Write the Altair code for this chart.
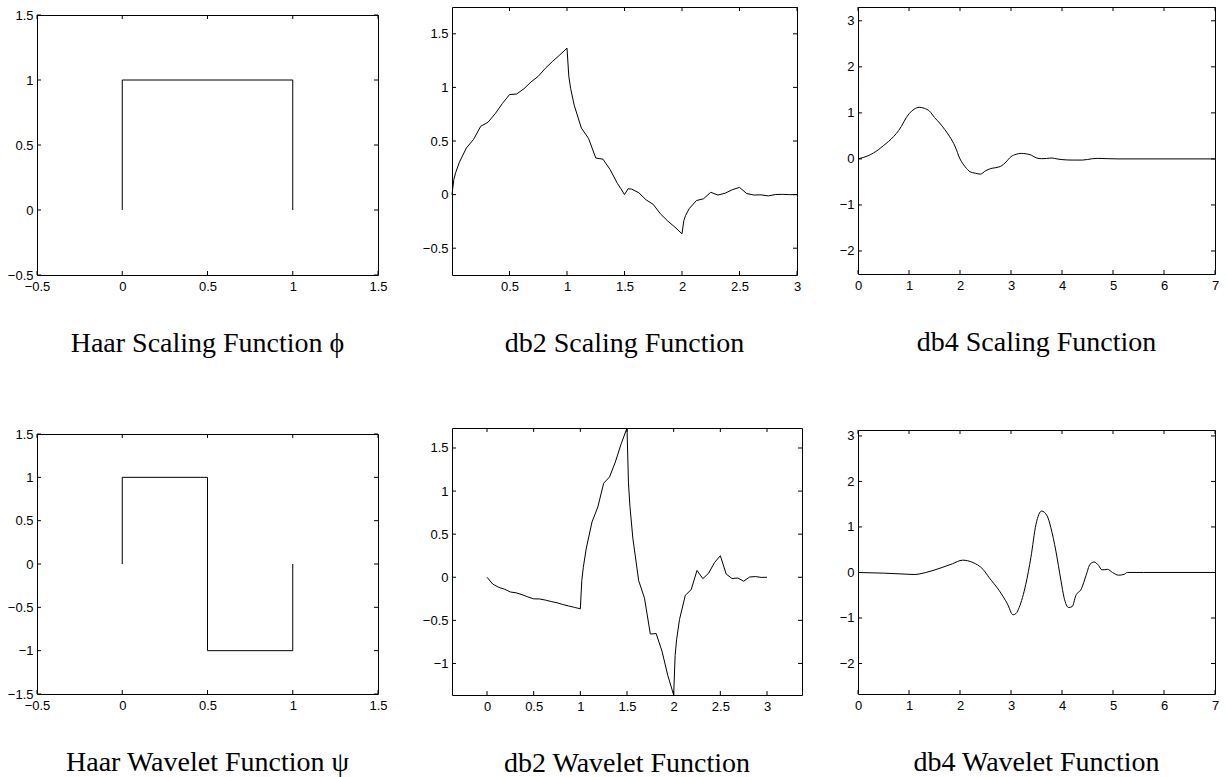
import altair as alt
import pandas as pd

# ---------------- data ----------------
haar_phi_x = [0, 0, 1, 1]
haar_phi_y = [0, 1, 1, 0]

haar_psi_x = [0, 0, 0.5, 0.5, 1, 1]
haar_psi_y = [0, 1, 1, -1, -1, 0]

db2_phi_x = [0, 0.015625, 0.03125, 0.0625, 0.125, 0.1875, 0.25, 0.3125, 0.375, 0.4375,
             0.5, 0.5625, 0.625, 0.6875, 0.75, 0.8125, 0.875, 0.9375, 1.0, 1.015625,
             1.03125, 1.0625, 1.125, 1.1875, 1.25, 1.3125, 1.375, 1.4375, 1.46875, 1.5,
             1.53125, 1.5625, 1.625, 1.6875, 1.75, 1.8125, 1.875, 1.9375, 2.0, 2.015625,
             2.03125, 2.0625, 2.125, 2.1875, 2.25, 2.3125, 2.375, 2.4375, 2.5, 2.5625,
             2.625, 2.6875, 2.75, 2.8125, 2.875, 2.9375, 3.0]
db2_phi_y = [0, 0.1387, 0.2031, 0.2973, 0.4353, 0.5149, 0.6373, 0.6742, 0.7539, 0.8492,
             0.9330, 0.9388, 0.9871, 1.0512, 1.1038, 1.1792, 1.2433, 1.3031, 1.3660, 1.1043,
             0.9911, 0.8340, 0.6205, 0.5237, 0.3415, 0.3301, 0.2333, 0.1052, 0.0547, 0.0,
             0.0547, 0.0510, 0.0168, -0.0489, -0.0915, -0.1799, -0.2456, -0.3027, -0.3660, -0.2430,
             -0.1942, -0.1313, -0.0558, -0.0386, 0.0212, -0.0043, 0.0128, 0.0456, 0.0670, 0.0102,
             -0.0039, -0.0023, -0.0123, 0.0007, 0.0023, -0.0004, 0.0]

db2_psi_x = [0, 0.0625, 0.125, 0.1875, 0.25, 0.3125, 0.375, 0.4375, 0.5, 0.5625,
             0.625, 0.6875, 0.75, 0.8125, 0.875, 0.9375, 1.0, 1.015625, 1.03125, 1.0625,
             1.125, 1.1875, 1.25, 1.3125, 1.375, 1.4375, 1.5, 1.515625, 1.53125, 1.5625,
             1.625, 1.6875, 1.75, 1.8125, 1.875, 1.9375, 2.0, 2.015625, 2.03125, 2.0625,
             2.125, 2.1875, 2.25, 2.3125, 2.375, 2.4375, 2.5, 2.5625, 2.625, 2.6875,
             2.75, 2.8125, 2.875, 2.9375, 3.0]
db2_psi_y = [0, -0.0797, -0.1166, -0.1380, -0.1707, -0.1806, -0.2020, -0.2275, -0.2500, -0.2516,
             -0.2645, -0.2817, -0.2958, -0.3160, -0.3332, -0.3492, -0.3660, -0.0384, 0.1113, 0.3285,
             0.6417, 0.8156, 1.0914, 1.1631, 1.3371, 1.5483, 1.7320, 1.0954, 0.8251, 0.4545,
             -0.0380, -0.2430, -0.6585, -0.6531, -0.8582, -1.1404, -1.3660, -0.9066, -0.7249, -0.4898,
             -0.2081, -0.1442, 0.0793, -0.0161, 0.0479, 0.1704, 0.2500, 0.0381, -0.0145, -0.0087,
             -0.0458, 0.0027, 0.0084, -0.0016, 0.0]

db4_phi_x = [0, 0.2, 0.4, 0.5, 0.6, 0.8, 1.0, 1.1, 1.2, 1.3, 1.4, 1.5, 1.6, 1.7, 1.8, 1.9,
             2.0, 2.1, 2.2, 2.3, 2.4, 2.5, 2.6, 2.7, 2.8, 2.9, 3.0, 3.1, 3.2, 3.3, 3.4, 3.5,
             3.6, 3.7, 3.8, 3.9, 4.0, 4.2, 4.4, 4.6, 4.7, 4.9, 5.1, 6.0, 7.0]
db4_phi_y = [0, 0.07, 0.20, 0.29, 0.38, 0.62, 0.98, 1.08, 1.12, 1.10, 1.04, 0.90, 0.78, 0.64, 0.48, 0.28,
             0.00, -0.17, -0.28, -0.31, -0.33, -0.26, -0.21, -0.19, -0.16, -0.07, 0.05, 0.10, 0.12, 0.11, 0.08, 0.02,
             0.005, 0.01, 0.02, 0.0, -0.015, -0.025, -0.025, 0.005, 0.012, 0.005, 0.0, 0.0, 0.0]

db4_psi_x = [0, 0.5, 1.0, 1.1, 1.33, 1.65, 1.85, 2.05, 2.25, 2.45, 2.57, 2.77, 2.93, 3.04, 3.1,
             3.16, 3.29, 3.39, 3.49, 3.6, 3.71, 3.78, 3.88, 3.98, 4.04, 4.13, 4.2, 4.27, 4.38,
             4.47, 4.55, 4.63, 4.72, 4.78, 4.84, 4.89, 4.99, 5.11, 5.22, 5.28, 5.6, 7.0]
db4_psi_y = [0, -0.015, -0.04, -0.045, 0.0, 0.11, 0.19, 0.27, 0.22, 0.07, -0.11, -0.40, -0.69, -0.93, -0.90,
             -0.77, -0.26, 0.33, 1.06, 1.35, 1.24, 0.99, 0.47, -0.18, -0.55, -0.77, -0.75, -0.51, -0.36,
             -0.07, 0.18, 0.23, 0.15, 0.06, 0.06, 0.07, 0.0, -0.06, -0.04, 0.0, 0.0, 0.0]

captions = ["Haar Scaling Function \u03d5", "db2 Scaling Function", "db4 Scaling Function",
            "Haar Wavelet Function \u03c8", "db2 Wavelet Function", "db4 Wavelet Function"]

ticks_haar_x = [-0.5, 0, 0.5, 1, 1.5]
ticks_haar_phi_y = [-0.5, 0, 0.5, 1, 1.5]
ticks_haar_psi_y = [-1.5, -1, -0.5, 0, 0.5, 1, 1.5]
ticks_db2_phi_x = [0.5, 1, 1.5, 2, 2.5, 3]
ticks_db2_phi_y = [-0.5, 0, 0.5, 1, 1.5]
ticks_db2_psi_x = [0, 0.5, 1, 1.5, 2, 2.5, 3]
ticks_db2_psi_y = [-1, -0.5, 0, 0.5, 1, 1.5]
ticks_db4_x = [0, 1, 2, 3, 4, 5, 6, 7]
ticks_db4_y = [-2, -1, 0, 1, 2, 3]

TICK = 4
CAP_OFFSET = 37


def panel(xs, ys, xdom, ydom, xticks, yticks, w, h, ext, caption, interp="linear"):
    df = pd.DataFrame({"x": xs, "y": ys, "i": list(range(len(xs)))})
    xsc = alt.Scale(domain=xdom, nice=False, zero=False)
    ysc = alt.Scale(domain=ydom, nice=False, zero=False)
    xax = alt.Axis(values=xticks, format="~g", title=None)
    yax = alt.Axis(values=yticks, format="~g", title=None, minExtent=ext, maxExtent=ext)
    line = alt.Chart(df).mark_line(color="black", strokeWidth=1, interpolate=interp).encode(
        x=alt.X("x:Q", scale=xsc, axis=xax),
        y=alt.Y("y:Q", scale=ysc, axis=yax),
        order=alt.Order("i:Q"),
    )
    xt = pd.DataFrame({"x": xticks})
    yt = pd.DataFrame({"y": yticks})
    rule = dict(color="black", strokeWidth=1)
    bx = alt.Chart(xt).mark_rule(**rule).encode(
        x=alt.X("x:Q", scale=xsc, axis=xax), y=alt.value(h), y2=alt.value(h - TICK))
    tx = alt.Chart(xt).mark_rule(**rule).encode(
        x=alt.X("x:Q", scale=xsc, axis=xax), y=alt.value(0), y2=alt.value(TICK))
    ly = alt.Chart(yt).mark_rule(**rule).encode(
        y=alt.Y("y:Q", scale=ysc, axis=yax), x=alt.value(0), x2=alt.value(TICK))
    ry = alt.Chart(yt).mark_rule(**rule).encode(
        y=alt.Y("y:Q", scale=ysc, axis=yax), x=alt.value(w), x2=alt.value(w - TICK))
    return alt.layer(line, bx, tx, ly, ry).properties(
        width=w, height=h,
        title=alt.TitleParams(caption, orient="bottom", anchor="middle", frame="group",
                              font="Liberation Serif", fontSize=28, fontWeight="normal",
                              color="black", baseline="top", offset=CAP_OFFSET),
    )


p1 = panel(haar_phi_x, haar_phi_y, [-0.5, 1.5], [-0.5, 1.5], ticks_haar_x, ticks_haar_phi_y,
           341, 260, 32, captions[0])
p2 = panel(db2_phi_x, db2_phi_y, [0, 3], [-0.75, 1.75], ticks_db2_phi_x, ticks_db2_phi_y,
           345, 268, 31, captions[1])
p3 = panel(db4_phi_x, db4_phi_y, [0, 7], [-2.5, 3.3], ticks_db4_x, ticks_db4_y,
           357, 267, 22, captions[2], interp="monotone")
p4 = panel(haar_psi_x, haar_psi_y, [-0.5, 1.5], [-1.5, 1.5], ticks_haar_x, ticks_haar_psi_y,
           341, 260, 32, captions[3])
p5 = panel(db2_psi_x, db2_psi_y, [-0.375, 3.375], [-1.366, 1.732], ticks_db2_psi_x, ticks_db2_psi_y,
           350, 267, 31, captions[4])
p6 = panel(db4_psi_x, db4_psi_y, [0, 7], [-2.67, 3.13], ticks_db4_x, ticks_db4_y,
           357, 264, 22, captions[5], interp="monotone")

# thin invisible spacer that lowers the first column a little, as in the reference
spacer = alt.Chart(pd.DataFrame({"a": [0]})).mark_rule(strokeOpacity=0, strokeWidth=0.1).encode(
    x=alt.value(1), y=alt.value(0), y2=alt.value(0.1)
).properties(width=341, height=0.1, view=alt.ViewBackground(stroke="transparent"))

col1 = alt.vconcat(spacer, alt.vconcat(p1, p4, spacing=68), spacing=0)
col2 = alt.vconcat(p2, p5, spacing=66)
col3 = alt.vconcat(p3, p6, spacing=71)

chart = alt.hconcat(col1, col2, col3, spacing=32).properties(
    padding={"left": 4, "top": 6, "right": 0, "bottom": 0},
    background="white",
).configure_view(
    stroke="black", strokeWidth=1
).configure_axis(
    labelFont="Liberation Sans", labelFontSize=13, labelColor="black",
    ticks=False, domain=False, grid=False, labelFlush=False, labelOverlap=False,
).configure_axisX(labelPadding=5).configure_axisY(labelPadding=4)

chart.save("out.html", embed_options={"renderer": "svg", "actions": False})
